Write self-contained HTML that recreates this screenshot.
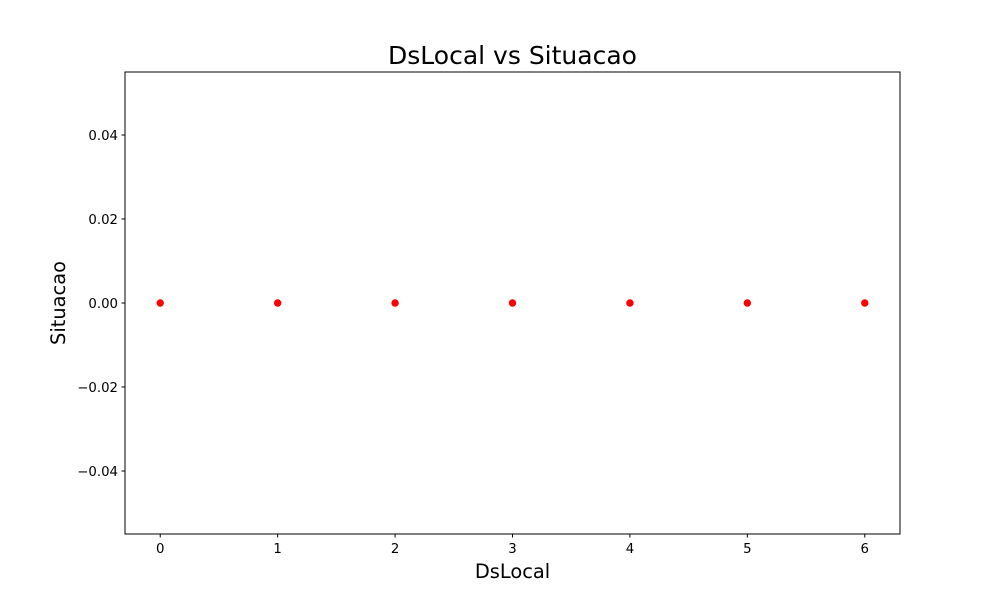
<!DOCTYPE html>
<html><head><meta charset="utf-8"><style>
body{margin:0;background:#fff;}
svg text{font-family:"DejaVu Sans","Liberation Sans",sans-serif;}
</style></head><body>
<svg id="chart" width="1000" height="600" xmlns="http://www.w3.org/2000/svg">
<rect width="1000" height="600" fill="#fff"/>
<text x="512.5" y="64" text-anchor="middle" font-size="25">DsLocal vs Situacao</text>
<g id="xt"></g>
<g id="yt"></g>
<g id="pts"></g>
<rect x="125" y="72" width="775" height="462" fill="none" stroke="#000" stroke-width="1"/>
<text x="512.5" y="578" text-anchor="middle" font-size="19.4">DsLocal</text>
<text transform="translate(65,303) rotate(-90)" text-anchor="middle" font-size="19.4">Situacao</text>
</svg>
<script>
const categories=[0,1,2,3,4,5,6];
const values=[0,0,0,0,0,0,0];
const xTicks=[0,1,2,3,4,5,6];
const yTicks=[-0.04,-0.02,0,0.02,0.04];
const yTickLabels=["−0.04","−0.02","0.00","0.02","0.04"];
const L=125,R=900,T=72,B=534;
const xMin=-0.3,xMax=6.3,yMin=-0.055,yMax=0.055;
const sx=v=>L+(v-xMin)/(xMax-xMin)*(R-L);
const sy=v=>B-(v-yMin)/(yMax-yMin)*(B-T);
const NS="http://www.w3.org/2000/svg";
function mk(t,a,p){const e=document.createElementNS(NS,t);for(const k in a)e.setAttribute(k,a[k]);p.appendChild(e);return e;}
const xt=document.getElementById('xt'),yt=document.getElementById('yt'),pts=document.getElementById('pts');
xTicks.forEach(v=>{const x=sx(v);
const l=mk('line',{x1:x,x2:x,y1:B,y2:B+3.5,stroke:'#000'},xt);


const t=mk('text',{x:x,y:B+19,'text-anchor':'middle','font-size':'13.3'},xt);t.textContent=String(v);

});
yTicks.forEach((v,i)=>{const y=sy(v);
const l=mk('line',{x1:L-3.5,x2:L,y1:y,y2:y,stroke:'#000'},yt);


const t=mk('text',{x:L-7,y:y+4.8,'text-anchor':'end','font-size':'13.3'},yt);t.textContent=yTickLabels[i];

});
categories.forEach((c,i)=>{const p=mk('circle',{cx:sx(c),cy:sy(values[i]),r:3.7,fill:'#ff0000'},pts);

});
</script>
</body></html>
